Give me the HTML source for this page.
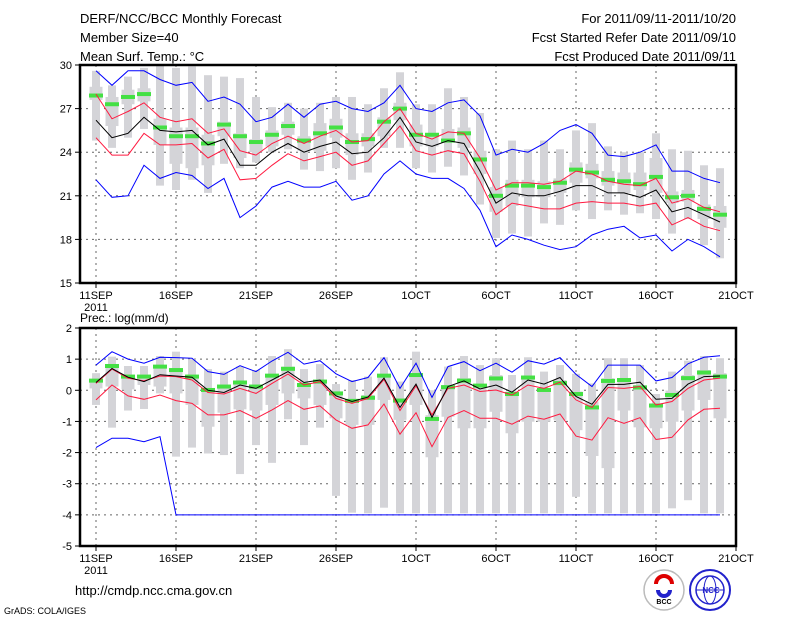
<!DOCTYPE html>
<html><head><meta charset="utf-8"><style>
html,body{margin:0;padding:0;background:#fff;}
svg{display:block;font-family:"Liberation Sans",sans-serif;}
</style></head><body>
<svg id="c" width="800" height="618" viewBox="0 0 800 618" xmlns="http://www.w3.org/2000/svg">
<g font-size="13" fill="#000">
<text x="80" y="23">DERF/NCC/BCC Monthly Forecast</text>
<text x="80" y="42">Member Size=40</text>
<text x="80" y="61">Mean Surf. Temp.: °C</text>
<text x="736" y="23" text-anchor="end">For 2011/09/11-2011/10/20</text>
<text x="736" y="42" text-anchor="end">Fcst Started Refer Date 2011/09/10</text>
<text x="736" y="61" text-anchor="end">Fcst Produced Date 2011/09/11</text>
</g>
<text x="80" y="322" font-size="12">Prec.: log(mm/d)</text>
<text x="75" y="595" font-size="13">http://cmdp.ncc.cma.gov.cn</text>
<text x="4" y="614" font-size="9">GrADS: COLA/IGES</text>
<g>
<circle cx="664" cy="590" r="20" fill="#fff" stroke="#bbb" stroke-width="1.5"/>
<path d="M656 584 a8 8 0 1 1 16 0" fill="none" stroke="#d00" stroke-width="4"/>
<path d="M658 590 a6 6 0 1 0 12 0" fill="none" stroke="#22c" stroke-width="4"/>
<text x="664" y="604" font-size="7" text-anchor="middle" font-weight="bold">BCC</text>
</g>
<g>
<circle cx="710" cy="590" r="20" fill="#fff" stroke="#22c" stroke-width="2"/>
<circle cx="710" cy="590" r="14" fill="none" stroke="#22c" stroke-width="1.5"/>
<ellipse cx="710" cy="590" rx="6" ry="14" fill="none" stroke="#22c" stroke-width="1"/>
<line x1="696" y1="590" x2="724" y2="590" stroke="#22c"/>
<text x="711" y="593" font-size="8" text-anchor="middle" fill="#22c" font-weight="bold">NCC</text>
</g>
</svg>
<script>
// ---------- data ----------
const dayLabels = ["11SEP","16SEP","21SEP","26SEP","1OCT","6OCT","11OCT","16OCT","21OCT"];
const tTicks = [15,18,21,24,27,30];
const pTicks = [-5,-4,-3,-2,-1,0,1,2];
// Temperature
const tBlueHi = [29.6,28.6,29.6,29.6,29.0,28.6,28.8,27.5,27.8,27.3,26.1,26.4,27.3,26.4,27.3,27.5,27.0,26.8,27.4,28.6,27.0,26.8,27.4,27.6,26.5,23.8,24.2,24.0,24.6,25.5,25.9,25.3,23.8,23.7,24.0,24.5,22.7,22.7,22.2,21.9];
const tRedHi = [28.0,26.3,26.8,27.4,26.4,26.1,26.3,25.3,25.6,24.1,23.8,24.6,25.1,24.6,25.1,25.5,24.7,24.8,26.1,27.0,25.3,24.9,25.4,25.3,23.6,21.4,21.9,21.9,21.8,22.0,22.7,22.5,22.0,21.8,21.7,22.2,20.5,20.8,20.2,19.9];
const tMean = [26.2,25.0,25.3,26.4,25.5,25.4,25.5,24.5,24.9,23.1,23.1,24.0,24.6,24.0,24.4,24.7,23.9,24.0,25.0,26.4,24.7,24.4,24.8,24.6,22.7,20.5,21.2,21.0,21.0,21.3,21.7,21.7,21.2,21.2,20.9,21.4,19.9,20.2,19.7,19.2];
const tRedLo = [25.0,23.8,23.8,25.3,24.5,24.5,24.6,23.6,24.2,22.1,22.2,23.1,23.9,23.4,23.7,24.0,23.1,23.4,24.6,25.8,24.1,23.8,24.1,23.9,22.0,19.7,20.5,20.3,20.1,20.1,20.5,20.6,20.5,20.5,20.3,20.5,19.0,19.5,18.9,18.6];
const tBlueLo = [22.1,20.9,21.0,23.1,22.2,22.6,22.4,21.5,22.2,19.5,20.3,21.6,22.0,21.6,21.6,22.0,20.7,21.0,22.5,23.4,22.5,22.2,22.2,21.5,20.0,17.5,18.3,18.0,17.6,17.3,17.5,18.3,18.7,18.9,18.1,18.3,17.2,18.0,17.5,16.8];
const tGreen = [27.9,27.3,27.8,28.0,25.7,25.1,25.1,24.6,25.9,25.1,24.7,25.2,25.8,24.8,25.3,25.7,24.7,24.9,26.1,27.0,25.2,25.2,24.8,25.3,23.5,21.0,21.7,21.7,21.6,21.9,22.8,22.6,22.1,22.0,21.8,22.3,20.9,21.0,20.1,19.7];
const tBarHi = [29.6,28.6,29.2,29.8,30.0,29.8,29.9,29.3,29.2,29.1,27.8,27.1,27.4,27.0,27.4,27.8,27.8,27.3,28.4,29.5,27.3,27.3,28.4,27.8,26.7,24.2,24.8,24.2,24.8,24.2,25.5,26.0,24.4,24.0,24.0,25.3,24.2,24.1,23.1,22.9];
const tBarLo = [24.8,24.3,25.0,25.6,21.7,21.4,22.1,21.2,23.2,22.9,23.3,24.0,24.2,22.8,22.7,22.9,22.1,22.6,24.3,24.3,22.9,22.6,23.0,22.4,20.4,18.1,18.4,18.2,19.1,19.0,20.0,19.4,20.0,19.7,19.8,19.4,18.4,19.4,17.6,16.7];
const tBoxHi = [28.5,27.8,28.3,28.4,26.3,25.7,25.7,25.2,26.1,25.3,24.9,25.5,26.1,25.1,26.0,26.3,25.3,25.3,26.4,27.4,25.9,25.2,25.6,25.7,24.1,21.6,22.1,22.1,22.0,22.2,23.3,23.2,22.7,22.6,22.6,23.6,21.3,21.4,20.4,20.3];
const tBoxLo = [27.6,25.8,27.3,27.5,24.5,23.2,22.9,23.1,25.1,23.6,24.0,24.4,25.2,24.1,24.1,25.0,23.8,24.4,25.1,26.2,24.4,24.4,24.8,24.3,22.5,19.9,20.3,20.9,20.9,21.2,21.9,22.2,21.7,21.2,21.4,21.2,20.5,20.6,19.4,18.8];
// Precipitation
const pBlueHi = [0.81,1.24,1.0,0.87,1.06,1.05,1.03,0.6,0.51,0.79,0.6,0.94,1.22,0.84,0.95,0.53,0.28,0.41,1.05,0.06,0.87,-0.23,0.76,0.92,0.63,0.87,0.58,0.95,0.84,1.05,0.51,0.12,0.81,0.81,0.81,0.3,0.41,0.85,1.06,1.11];
const pRedHi = [0.22,0.68,0.39,0.3,0.46,0.44,0.33,-0.07,-0.12,0.06,-0.1,0.22,0.52,0.17,0.28,-0.26,-0.42,-0.26,0.35,-0.65,0.14,-0.79,0.06,0.17,-0.04,0.01,-0.15,0.17,0.06,0.26,-0.31,-0.55,0.09,0.06,0.12,-0.47,-0.36,0.06,0.33,0.39];
const pMean = [0.25,0.7,0.42,0.28,0.5,0.46,0.42,0.0,-0.07,0.17,0.06,0.33,0.6,0.25,0.33,-0.18,-0.36,-0.22,0.39,-0.55,0.2,-0.87,0.12,0.3,0.04,0.17,-0.06,0.33,0.2,0.41,-0.2,-0.45,0.19,0.19,0.26,-0.29,-0.26,0.2,0.44,0.46];
const pRedLo = [-0.31,0.17,-0.18,-0.29,-0.15,-0.33,-0.42,-0.79,-0.79,-0.65,-0.9,-0.63,-0.33,-0.61,-0.5,-0.95,-1.22,-1.11,-0.44,-1.41,-0.72,-1.81,-0.87,-0.65,-0.9,-0.9,-1.09,-0.83,-0.93,-0.76,-1.47,-1.6,-0.88,-1.06,-0.88,-1.58,-1.51,-0.95,-0.61,-0.58];
const pBlueLo = [-1.84,-1.54,-1.54,-1.65,-1.49,-4,-4,-4,-4,-4,-4,-4,-4,-4,-4,-4,-4,-4,-4,-4,-4,-4,-4,-4,-4,-4,-4,-4,-4,-4,-4,-4,-4,-4,-4,-4,-4,-4,-4,-4];
const pGreen = [0.31,0.78,0.44,0.44,0.76,0.65,0.44,0.01,0.12,0.25,0.12,0.47,0.69,0.17,0.28,-0.1,-0.34,-0.24,0.47,-0.33,0.49,-0.92,0.1,0.31,0.15,0.38,-0.12,0.41,0.01,0.23,-0.12,-0.55,0.3,0.33,0.09,-0.49,-0.15,0.39,0.57,0.44];
const pBarHi = [0.55,1.08,0.78,0.78,1.1,1.24,1.0,0.68,0.6,0.76,0.65,1.1,1.32,0.68,0.84,0.2,0.33,0.44,1.06,0.28,1.24,0.0,0.76,1.1,0.81,1.03,0.49,1.06,0.6,0.81,0.53,0.22,1.03,1.03,0.81,-0.12,0.6,0.95,1.1,1.03];
const pBarLo = [-0.47,-1.2,-0.65,-0.6,-0.1,-2.13,-1.84,-2.03,-2.08,-2.69,-1.76,-2.33,-0.93,-1.76,-1.2,-3.39,-3.93,-3.95,-3.77,-3.95,-3.95,-3.95,-3.95,-3.95,-3.95,-3.95,-3.95,-3.95,-3.95,-3.95,-3.42,-3.95,-3.95,-3.95,-3.95,-3.95,-3.79,-3.53,-3.95,-3.95];
const pBoxHi = [0.33,0.76,0.49,0.49,0.76,0.65,0.49,0.01,0.12,0.28,0.12,0.49,0.76,0.17,0.33,-0.04,-0.29,-0.15,0.49,-0.26,0.55,-0.8,0.17,0.39,0.17,0.49,-0.04,0.44,0.01,0.33,-0.04,-0.36,0.39,0.39,0.17,-0.42,-0.01,0.49,0.65,0.55];
const pBoxLo = [0.06,0.12,0.03,0.17,0.12,-0.1,-0.47,-1.17,-0.72,-0.61,-0.65,-0.47,-0.1,-0.26,-0.47,-0.9,-1.11,-1.11,-0.31,-0.95,-0.47,-2.15,-0.85,-1.22,-1.22,-0.69,-1.38,-1.01,-1.01,-0.95,-1.28,-2.11,-2.5,-0.65,-1.19,-1.22,-1.01,-0.65,-0.31,-0.9];

// ---------- drawing ----------
const NS = "http://www.w3.org/2000/svg";
const svg = document.getElementById("c");
const X0 = 80, X1 = 736;
const xDay = d => 96 + d * 16;
function el(tag, attrs, parent) {
  const e = document.createElementNS(NS, tag);
  for (const k in attrs) e.setAttribute(k, attrs[k]);
  (parent || svg).appendChild(e);
  return e;
}
function panel(name, top, bot, vmin, vmax, ticks, s) {
  const yv = v => bot - (v - vmin) / (vmax - vmin) * (bot - top);
  const g = el("g", {});
  
  
  // grid
  ticks.forEach(t => {
    if (t === vmin || t === vmax) return;
    const l = el("line", {x1: X0, x2: X1, y1: yv(t), y2: yv(t), stroke: "#666", "stroke-dasharray": "2,4", "stroke-width": 1}, g);
    
    
  });
  dayLabels.forEach((lab, i) => {
    const x = xDay(i * 5);
    if (x > X0 && x < X1) {
      const l = el("line", {x1: x, x2: x, y1: top, y2: bot, stroke: "#666", "stroke-dasharray": "2,4", "stroke-width": 1}, g);
      
      
    }
  });
  // bars & boxes
  for (let d = 0; d < s.barHi.length; d++) {
    const x = xDay(d);
    const b = el("rect", {x: x - 4, width: 8, y: yv(s.barHi[d]), height: yv(s.barLo[d]) - yv(s.barHi[d]), fill: "#d4d4d8"}, g);
    
    
    const bx = el("rect", {x: x - 6.5, width: 13, y: yv(s.boxHi[d]), height: yv(s.boxLo[d]) - yv(s.boxHi[d]), fill: "#d4d4d8"}, g);
    
    
  }
  for (let d = 0; d < s.green.length; d++) {
    const x = xDay(d);
    const gr = el("rect", {x: x - 7, width: 14, y: yv(s.green[d]) - 2, height: 4, fill: "#44e044"}, g);
    
    
  }
  const lines = [[s.blueLo, "#0000ff", "blue-lower-line"], [s.blueHi, "#0000ff", "blue-upper-line"],
                 [s.redLo, "#ff1a40", "red-lower-line"], [s.redHi, "#ff1a40", "red-upper-line"],
                 [s.mean, "#000", "ensemble-mean-line"]];
  lines.forEach(([arr, col, nm]) => {
    const pts = arr.map((v, d) => xDay(d) + "," + yv(v).toFixed(1)).join(" ");
    const p = el("polyline", {points: pts, fill: "none", stroke: col, "stroke-width": 1}, g);
    
    
  });
  // frame
  const f = el("rect", {x: X0, y: top, width: X1 - X0, height: bot - top, fill: "none", stroke: "#000", "stroke-width": 2.5}, g);
  
  
  // y ticks
  ticks.forEach(t => {
    const y = yv(t);
    el("line", {x1: X0 - 5, x2: X0, y1: y, y2: y, stroke: "#000"}, g);
    const tx = el("text", {x: X0 - 8, y: y + 4, "font-size": 11, "text-anchor": "end"}, g);
    tx.textContent = t;
    
    
  });
  dayLabels.forEach((lab, i) => {
    const x = xDay(i * 5);
    el("line", {x1: x, x2: x, y1: bot, y2: bot + 5, stroke: "#000"}, g);
    const tx = el("text", {x: x, y: bot + 16, "font-size": 11, "text-anchor": "middle"}, g);
    tx.textContent = lab;
    
    
  });
  const yr = el("text", {x: xDay(0), y: bot + 28, "font-size": 11, "text-anchor": "middle"}, g);
  yr.textContent = "2011";
  
  
}
panel("temperature-panel", 65, 283, 15, 30, tTicks,
  {barHi: tBarHi, barLo: tBarLo, boxHi: tBoxHi, boxLo: tBoxLo, green: tGreen,
   blueHi: tBlueHi, blueLo: tBlueLo, redHi: tRedHi, redLo: tRedLo, mean: tMean});
panel("precipitation-panel", 328, 546, -5, 2, pTicks,
  {barHi: pBarHi, barLo: pBarLo, boxHi: pBoxHi, boxLo: pBoxLo, green: pGreen,
   blueHi: pBlueHi, blueLo: pBlueLo, redHi: pRedHi, redLo: pRedLo, mean: pMean});
</script>
</body></html>
